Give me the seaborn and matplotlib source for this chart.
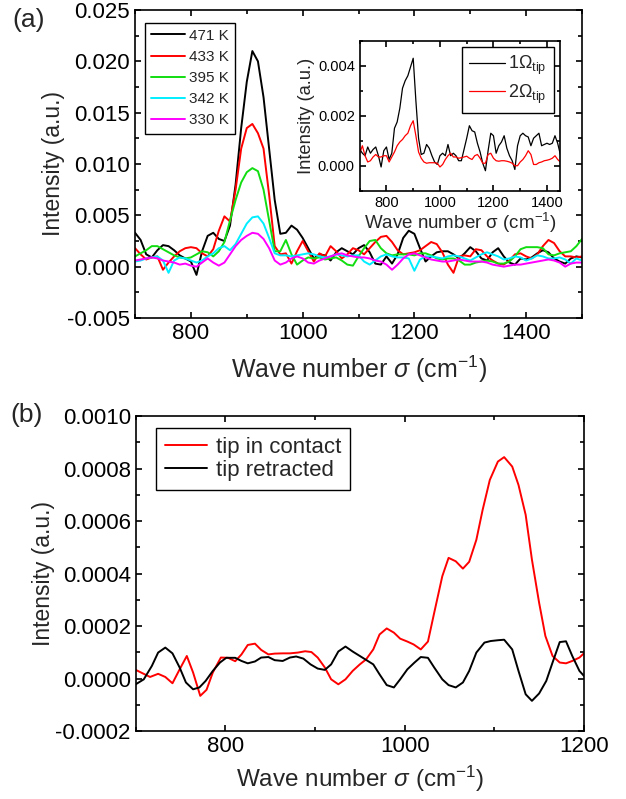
import numpy as np
import pandas as pd
import matplotlib
matplotlib.use("Agg")
import matplotlib.pyplot as plt
from matplotlib.ticker import MultipleLocator, FormatStrFormatter
import seaborn as sns

# ---- panel (a): spectra at several temperatures (values in 1e-3 a.u.) ----
wn_a = list(range(700, 1501, 10))
temps = ["471 K", "433 K", "395 K", "342 K", "330 K"]
colors = ["#000000", "#ff0000", "#11dd11", "#00eeff", "#ff00ff"]

k471 = [3.3, 2.6, 1.2, 0.9, 1.6, 2.1, 2.0, 1.6, 1.1, 0.8, 0.5, -0.8, 1.5, 3.0, 3.3, 2.7, 2.5, 4.0, 8.0, 13.5,
        18.0, 21.0, 20.0, 16.5, 11.5, 6.5, 3.2, 3.3, 4.0, 3.6, 2.8, 1.8, 0.8, 1.2, 1.1, 0.6, 1.4, 1.8, 1.5, 1.2,
        1.8, 2.1, 1.4, 0.3, 0.2, 1.0, 0.3, 1.2, 2.8, 3.5, 3.2, 1.8, 0.5, 1.0, 1.4, 1.5, 1.5, 1.2, 0.8, 1.3,
        1.9, 1.5, 0.8, 0.6, 1.4, 1.8, 1.0, 0.4, 0.2, 0.8, 0.7, 0.9, 1.3, 1.6, 1.4, 0.8, 0.5, 0.3, 0.8, 1.0, 0.9]
k433 = [1.8, 1.2, 0.7, 0.9, 1.0, -0.3, 0.4, 1.0, 1.5, 1.8, 1.9, 1.8, 1.3, 1.0, 1.7, 3.5, 4.9, 4.4, 7.5, 11.5,
        13.5, 13.9, 13.0, 11.5, 7.0, 2.0, 1.2, 1.3, 0.3, 1.5, 2.5, 1.5, 0.5, 1.3, 1.0, 2.0, 1.5, 0.8, 1.2, 1.8,
        1.6, 1.2, 1.8, 2.4, 2.9, 3.0, 2.4, 1.6, 1.2, 1.3, 1.4, 1.6, 2.0, 2.4, 2.2, 1.4, 0.2, -0.6, 1.0, 1.1,
        1.0, 1.7, 1.6, 1.0, 0.6, 0.3, 0.2, 0.6, 1.2, 1.3, 1.0, 0.8, 1.2, 2.0, 2.6, 2.3, 1.5, 1.0, 1.0, 0.9, 1.0]
k395 = [1.0, 1.3, 1.6, 2.0, 2.0, 1.7, 1.4, 1.1, 0.9, 0.8, 0.9, 1.2, 1.5, 1.4, 1.0, 1.5, 2.4, 4.5, 6.5, 8.2,
        9.2, 9.6, 9.3, 7.5, 4.5, 1.5, 1.5, 2.6, 1.2, 0.2, 0.6, 0.9, 0.8, 0.9, 0.7, 0.8, 0.9, 0.6, 0.2, 0.1,
        1.0, 1.8, 2.5, 2.6, 1.8, 1.3, 1.1, 1.2, 1.2, 1.2, 1.1, 1.3, 1.3, 1.1, 0.8, 0.7, 0.8, 0.8, 0.6, 0.2,
        0.2, 0.4, 0.5, 0.6, 0.5, 0.3, 0.3, 0.5, 1.0, 1.7, 1.9, 1.9, 1.9, 1.8, 1.2, 1.1, 1.3, 1.4, 1.5, 2.0, 2.7]
k342 = [0.5, 0.6, 0.8, 0.9, 1.0, 0.6, -0.6, 0.6, 0.9, 0.8, 0.6, 0.4, 0.6, 1.0, 1.3, 1.8, 2.0, 1.6, 2.2, 3.2,
        4.2, 4.8, 4.9, 4.2, 2.8, 1.3, 1.1, 1.1, 1.0, 1.1, 1.2, 1.3, 1.2, 1.0, 0.9, 1.0, 1.2, 1.1, 1.0, 1.1,
        1.1, 0.5, 0.2, 0.6, 1.0, 1.2, 1.0, 0.9, 0.9, 0.8, -0.4, 0.7, 1.0, 1.0, 0.9, 0.8, 1.0, 1.1, 1.0, 0.8,
        0.6, 0.9, 1.2, 1.4, 1.2, 1.0, 0.7, 0.8, 1.0, 0.9, 0.6, 0.8, 1.1, 1.0, 0.8, 0.8, 0.9, 0.7, 0.3, 0.8, 0.6]
k330 = [0.6, 0.7, 0.8, 0.9, 0.8, 0.6, 0.5, 0.4, 0.2, 0.3, 0.1, 0.0, 0.4, 0.8, 0.4, 0.1, 0.4, 1.2, 2.0, 2.6,
        3.0, 3.3, 3.2, 2.7, 1.8, 0.6, 0.2, 0.4, 0.8, 1.0, 0.8, 0.4, 0.3, 0.6, 0.8, 1.0, 1.2, 1.3, 1.1, 1.0,
        0.9, 0.9, 0.8, 0.6, 0.5, 0.2, -0.3, 0.2, 0.8, 1.2, 1.3, 1.1, 0.9, 0.7, 0.6, 0.5, 0.5, 0.6, 0.7, 0.6,
        0.5, 0.5, 0.5, 0.4, 0.2, 0.1, 0.0, 0.1, 0.2, 0.2, 0.3, 0.4, 0.5, 0.6, 0.7, 0.6, 0.4, 0.0, 0.3, 0.4, 0.4]

# ---- inset: 1 and 2 Omega_tip demodulation (1e-3 a.u.) ----
wn_in = list(range(700, 1451, 10))
om1 = [0.66, 0.50, 0.40, 0.75, 0.50, 0.65, 0.75, 0.40, -0.05, 0.60, 0.75, 0.25, 0.50, 1.50, 1.75, 2.30,
       3.10, 3.40, 3.60, 3.95, 4.30, 2.60, 1.10, 0.45, 0.50, 0.85, 0.70, 0.40, 0.15, 0.05, 0.40, 0.50,
       0.40, 0.85, 0.40, 0.50, 0.40, 0.20, 0.20, 0.65, 1.10, 1.60, 1.40, 1.35, 0.90, 0.55, 0.10, -0.20,
       0.60, 1.30, 1.20, 0.50, 0.80, 0.95, 1.20, 0.70, 0.40, 0.20, -0.15, 0.80, 1.20, 1.30, 1.20, 1.15,
       0.80, 1.10, 1.20, 1.30, 0.80, 0.85, 0.90, 0.85, 0.90, 1.20, 0.90, 0.45]
om2 = [0.50, 0.80, 0.40, 0.15, 0.20, 0.35, 0.45, 0.35, 0.35, 0.40, 0.40, 0.15, 0.35, 0.55, 0.80, 0.95,
       1.05, 1.20, 1.30, 1.60, 1.80, 1.20, 0.55, 0.30, 0.15, 0.10, 0.12, 0.12, 0.12, 0.10, -0.05, 0.05,
       0.25, 0.40, 0.50, 0.35, 0.35, 0.30, 0.32, 0.35, 0.38, 0.30, 0.25, 0.40, 0.45, 0.30, 0.10, 0.10,
       0.45, 0.50, 0.30, 0.20, 0.18, 0.20, 0.20, 0.18, 0.15, 0.10, 0.00, 0.00, 0.15, 0.25, 0.40, 0.60,
       0.45, 0.05, 0.05, 0.12, 0.15, 0.20, 0.22, 0.25, 0.30, 0.40, 0.25, 0.15]

# ---- panel (b): tip in contact vs retracted (1e-4 a.u.) ----
wn_contact = [700, 716, 725, 733, 741, 749, 757, 764, 772, 779, 786, 795, 803, 811, 818, 825, 833, 840, 848,
              855, 864, 872, 881, 889, 896, 903, 911, 918, 926, 934, 942, 950, 957, 965, 972, 980, 988, 995,
              1003, 1010, 1018, 1026, 1033, 1042, 1049, 1057, 1065, 1072, 1080, 1087, 1095, 1104, 1111,
              1120, 1127, 1135, 1142, 1150, 1157, 1165, 1173, 1180, 1187, 1195, 1200]
contact = [0.33, 0.06, 0.18, 0.06, -0.18, 0.35, 0.86, 0.23, -0.66, -0.43, 0.23, 0.80, 0.79, 0.66, 0.92,
           1.28, 1.33, 1.09, 0.92, 0.95, 0.96, 0.96, 0.99, 1.04, 1.01, 0.80, 0.42, -0.03, -0.22, -0.03,
           0.29, 0.54, 0.73, 1.11, 1.68, 1.91, 1.75, 1.52, 1.41, 1.30, 1.11, 1.41, 2.51, 3.90, 4.60, 4.47,
           4.19, 4.45, 5.29, 6.43, 7.57, 8.27, 8.44, 8.08, 7.38, 6.24, 4.53, 2.89, 1.62, 0.86, 0.61, 0.58,
           0.67, 0.80, 0.96]
wn_retract = [700, 709, 718, 725, 733, 741, 749, 756, 764, 771, 778, 786, 794, 801, 811, 818, 825, 833, 840,
              848, 855, 864, 872, 879, 887, 895, 903, 911, 918, 926, 934, 942, 950, 957, 965, 972, 980, 988,
              995, 1003, 1011, 1018, 1026, 1033, 1042, 1049, 1057, 1065, 1072, 1080, 1089, 1096, 1104, 1111,
              1120, 1127, 1135, 1142, 1150, 1158, 1165, 1173, 1180, 1187, 1195, 1200]
retract = [-0.22, -0.03, 0.48, 0.99, 1.18, 0.96, 0.42, -0.15, -0.41, -0.34, -0.09, 0.29, 0.61, 0.79, 0.79,
           0.67, 0.58, 0.65, 0.80, 0.82, 0.70, 0.67, 0.80, 0.84, 0.76, 0.54, 0.38, 0.33, 0.54, 1.03, 1.22,
           1.03, 0.86, 0.71, 0.54, 0.16, -0.25, -0.34, -0.03, 0.35, 0.61, 0.82, 0.79, 0.42, -0.03, -0.25,
           -0.34, -0.15, 0.29, 0.99, 1.37, 1.43, 1.46, 1.48, 1.11, 0.29, -0.60, -0.85, -0.57, -0.09, 0.61,
           1.39, 1.42, 0.86, 0.29, 0.10]

sns.set_theme(style="ticks")
plt.rcParams["font.family"] = ["Liberation Sans", "DejaVu Sans"]
plt.rcParams["mathtext.fontset"] = "custom"
plt.rcParams["mathtext.rm"] = "Liberation Sans"
plt.rcParams["mathtext.it"] = "Liberation Sans:italic"
plt.rcParams["axes.linewidth"] = 1.2


def style_axis(ax, size, major=4.5, minor=2.8):
    ax.tick_params(which="both", direction="in", top=True, right=True,
                   labelsize=size, width=1.2, colors="black")
    ax.tick_params(which="major", length=major)
    ax.tick_params(which="minor", length=minor)
    for s in ax.spines.values():
        s.set_color("black")


fig = plt.figure(figsize=(6.26, 7.99), dpi=100)

# panel (a)
df_a = pd.DataFrame({
    "wn": wn_a * 5,
    "val": np.concatenate([k471, k433, k395, k342, k330]) * 1e-3,
    "T": np.repeat(temps, len(wn_a)),
})
ax1 = fig.add_axes([0.2157, 0.602, 0.714, 0.3855])
sns.lineplot(data=df_a, x="wn", y="val", hue="T", hue_order=temps,
             palette=dict(zip(temps, colors)), estimator=None, lw=1.4, ax=ax1)
ax1.set_xlim(700, 1500)
ax1.set_ylim(-0.005, 0.025)
ax1.xaxis.set_major_locator(MultipleLocator(200))
ax1.xaxis.set_minor_locator(MultipleLocator(100))
ax1.yaxis.set_major_locator(MultipleLocator(0.005))
ax1.yaxis.set_minor_locator(MultipleLocator(0.0025))
ax1.yaxis.set_major_formatter(FormatStrFormatter("%.3f"))
style_axis(ax1, 16)
ax1.set_xlabel(r"Wave number $\sigma$ (cm$^{-1}$)", fontsize=18, labelpad=7)
ax1.set_ylabel("Intensity (a.u.)", fontsize=16.5, labelpad=1.5)
h, l = ax1.get_legend_handles_labels()
leg = ax1.legend(h, l, loc="upper left", bbox_to_anchor=(0.022, 0.959), borderaxespad=0,
                 fontsize=11, handlelength=2.2, labelspacing=0.47, handletextpad=0.3,
                 fancybox=False, edgecolor="black", framealpha=1)
leg.get_frame().set_linewidth(1.0)

# inset
ax_in = fig.add_axes([0.5746, 0.7613, 0.3205, 0.1877])
df_in = pd.DataFrame({
    "wn": wn_in * 2,
    "val": np.concatenate([om1, om2]) * 1e-3,
    "h": np.repeat(["1w", "2w"], len(wn_in)),
})
sns.lineplot(data=df_in, x="wn", y="val", hue="h", hue_order=["1w", "2w"],
             palette={"1w": "black", "2w": "red"}, estimator=None, lw=0.9, ax=ax_in)
ax_in.set_xlim(700, 1450)
ax_in.set_ylim(-0.001, 0.005)
ax_in.xaxis.set_major_locator(MultipleLocator(200))
ax_in.xaxis.set_minor_locator(MultipleLocator(100))
ax_in.yaxis.set_major_locator(MultipleLocator(0.002))
ax_in.yaxis.set_minor_locator(MultipleLocator(0.001))
ax_in.yaxis.set_major_formatter(FormatStrFormatter("%.3f"))
style_axis(ax_in, 10.5, major=4, minor=2.5)
ax_in.set_xlabel("Wave number σ (cm$^{-1}$)", fontsize=13.5, labelpad=1)
ax_in.set_ylabel("Intensity (a.u.)", fontsize=13.2, labelpad=2)
h, _ = ax_in.get_legend_handles_labels()
leg = ax_in.legend(h, [r"1$\Omega_{\mathrm{tip}}$", r"2$\Omega_{\mathrm{tip}}$"],
                   loc="upper right", bbox_to_anchor=(0.969, 0.96), borderaxespad=0,
                   fontsize=13, handlelength=2.0, labelspacing=0.3, handletextpad=0.2,
                   fancybox=False, edgecolor="black", framealpha=1)
leg.get_frame().set_linewidth(1.0)

# panel (b)
ax2 = fig.add_axes([0.2168, 0.0851, 0.716, 0.394])
df_b = pd.concat([
    pd.DataFrame({"wn": wn_contact, "val": np.array(contact) * 1e-4, "s": "tip in contact"}),
    pd.DataFrame({"wn": wn_retract, "val": np.array(retract) * 1e-4, "s": "tip retracted"}),
])
sns.lineplot(data=df_b, x="wn", y="val", hue="s", hue_order=["tip in contact", "tip retracted"],
             palette={"tip in contact": "red", "tip retracted": "black"}, estimator=None,
             lw=1.4, ax=ax2)
ax2.set_xlim(700, 1200)
ax2.set_ylim(-0.0002, 0.0010)
ax2.xaxis.set_major_locator(MultipleLocator(200))
ax2.xaxis.set_minor_locator(MultipleLocator(100))
ax2.yaxis.set_major_locator(MultipleLocator(0.0002))
ax2.yaxis.set_minor_locator(MultipleLocator(0.0001))
ax2.yaxis.set_major_formatter(FormatStrFormatter("%.4f"))
style_axis(ax2, 16)
ax2.set_xlabel(r"Wave number $\sigma$ (cm$^{-1}$)", fontsize=17.5, labelpad=5)
ax2.set_ylabel("Intensity (a.u.)", fontsize=16.5, labelpad=0.5)
h, l = ax2.get_legend_handles_labels()
leg = ax2.legend(h, l, loc="upper left", bbox_to_anchor=(0.0446, 0.963), borderaxespad=0,
                 fontsize=16, handlelength=1.9, labelspacing=0.1, handletextpad=0.4,
                 fancybox=False, edgecolor="black", framealpha=1)
leg.get_frame().set_linewidth(1.0)

fig.text(0.019, 0.99, "(a)", fontsize=19, va="top")
fig.text(0.016, 0.495, "(b)", fontsize=19, va="top")

fig.savefig("out.png", dpi=100)
